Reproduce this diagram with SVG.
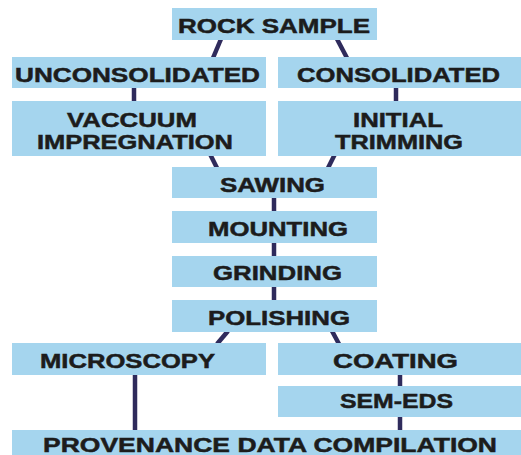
<svg xmlns="http://www.w3.org/2000/svg" width="521" height="455" viewBox="0 0 521 455">
<style>
.b{fill:#a5d5ee}
.t{font-family:"Liberation Sans",Arial,sans-serif;font-weight:bold;font-size:21px;fill:#1c1c1c;stroke:#1c1c1c;stroke-width:0.5}
.c{stroke:#2f2b5c;stroke-width:4.5;fill:none}
</style>
<rect width="521" height="455" fill="#fff"/>
<g id="connectors">
<line class="c" x1="221" y1="39" x2="213" y2="58"/>
<line class="c" x1="337" y1="39" x2="347" y2="58"/>
<line class="c" x1="134" y1="87" x2="134" y2="102"/>
<line class="c" x1="396" y1="87" x2="396" y2="102"/>
<line class="c" x1="210" y1="154" x2="217" y2="168"/>
<line class="c" x1="335" y1="154" x2="328" y2="168"/>
<line class="c" x1="274" y1="197" x2="274" y2="212"/>
<line class="c" x1="274" y1="242" x2="274" y2="257"/>
<line class="c" x1="274" y1="286" x2="274" y2="301"/>
<line class="c" x1="228" y1="331" x2="217" y2="344"/>
<line class="c" x1="332" y1="331" x2="339" y2="344"/>
<line class="c" x1="400" y1="374" x2="400" y2="387"/>
<line class="c" x1="400" y1="416" x2="400" y2="431"/>
<line class="c" x1="135" y1="374" x2="135" y2="431"/>
</g>
<g id="rock"><rect class="b" x="172" y="8" width="205" height="32"/><text class="t" x="178" y="33" textLength="192" lengthAdjust="spacingAndGlyphs">ROCK SAMPLE</text></g>
<g id="uncons"><rect class="b" x="12" y="57" width="254" height="31"/><text class="t" x="15" y="82" textLength="245" lengthAdjust="spacingAndGlyphs">UNCONSOLIDATED</text></g>
<g id="cons"><rect class="b" x="278" y="57" width="243" height="31"/><text class="t" x="297" y="82" textLength="203" lengthAdjust="spacingAndGlyphs">CONSOLIDATED</text></g>
<g id="vaccuum"><rect class="b" x="12" y="101" width="254" height="55"/><text class="t" x="67" y="127" textLength="130" lengthAdjust="spacingAndGlyphs">VACCUUM</text><text class="t" x="37" y="149" textLength="196" lengthAdjust="spacingAndGlyphs">IMPREGNATION</text></g>
<g id="initial"><rect class="b" x="278" y="101" width="243" height="55"/><text class="t" x="353" y="127" textLength="90" lengthAdjust="spacingAndGlyphs">INITIAL</text><text class="t" x="335" y="149" textLength="128" lengthAdjust="spacingAndGlyphs">TRIMMING</text></g>
<g id="sawing"><rect class="b" x="172" y="167" width="205" height="31"/><text class="t" x="220" y="192" textLength="105" lengthAdjust="spacingAndGlyphs">SAWING</text></g>
<g id="mounting"><rect class="b" x="172" y="211" width="205" height="32"/><text class="t" x="208" y="236" textLength="140" lengthAdjust="spacingAndGlyphs">MOUNTING</text></g>
<g id="grinding"><rect class="b" x="172" y="256" width="205" height="31"/><text class="t" x="213" y="280" textLength="129" lengthAdjust="spacingAndGlyphs">GRINDING</text></g>
<g id="polishing"><rect class="b" x="172" y="300" width="205" height="32"/><text class="t" x="208" y="325" textLength="142" lengthAdjust="spacingAndGlyphs">POLISHING</text></g>
<g id="microscopy"><rect class="b" x="12" y="343" width="254" height="32"/><text class="t" x="40" y="368" textLength="175" lengthAdjust="spacingAndGlyphs">MICROSCOPY</text></g>
<g id="coating"><rect class="b" x="278" y="343" width="243" height="32"/><text class="t" x="333" y="368" textLength="125" lengthAdjust="spacingAndGlyphs">COATING</text></g>
<g id="semeds"><rect class="b" x="278" y="386" width="243" height="31"/><text class="t" x="340" y="408" textLength="113" lengthAdjust="spacingAndGlyphs">SEM-EDS</text></g>
<g id="provenance"><rect class="b" x="12" y="430" width="509" height="25"/><text class="t" x="43" y="452" textLength="454" lengthAdjust="spacingAndGlyphs">PROVENANCE DATA COMPILATION</text></g>
</svg>
